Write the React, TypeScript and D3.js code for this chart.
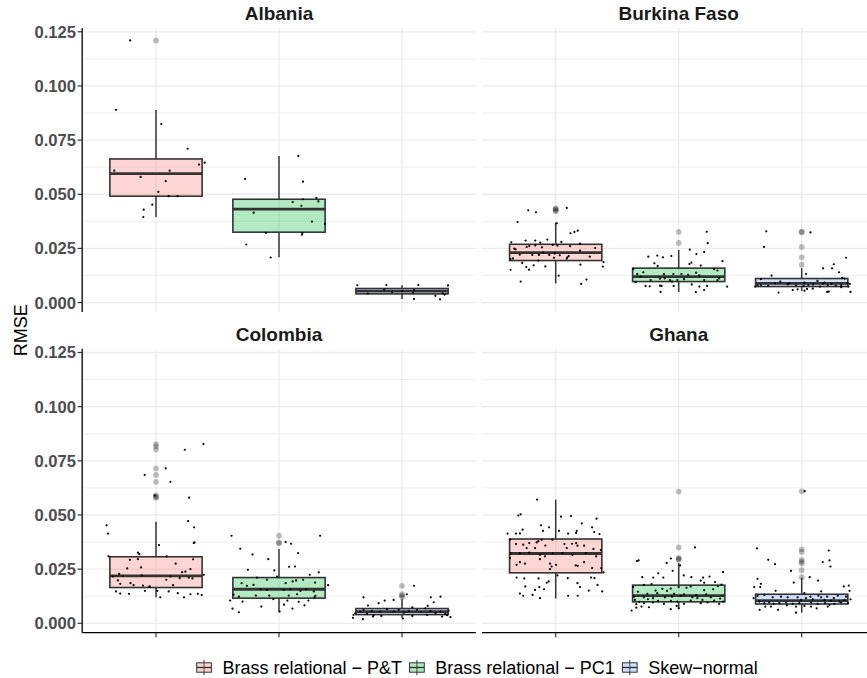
import React from 'react';
import * as d3 from 'd3';

const W = 867;
const H = 678;
const FONT = '"Liberation Sans", Arial, Helvetica, sans-serif';

const countries = ['Albania', 'Burkina Faso', 'Colombia', 'Ghana'];
const methods = ['Brass relational − P&T', 'Brass relational − PC1', 'Skew−normal'];
const methodColors = ['#F8766D', '#00BA38', '#619CFF'];
const yTicks = [0, 0.025, 0.05, 0.075, 0.1, 0.125];
const yMinorTicks = [0.0125, 0.0375, 0.0625, 0.0875, 0.1125];
const yDomain = [-0.00435, 0.12675];

// Box summaries per method: [lower whisker, Q1, median, Q3, upper whisker]
const albaniaBoxes = [
  [0.0395, 0.0491, 0.0595, 0.0663, 0.0889],
  [0.0209, 0.0325, 0.0431, 0.0477, 0.0677],
  [0.0017, 0.004, 0.0053, 0.0065, 0.008],
];
const burkinaBoxes = [
  [0.0088, 0.0194, 0.0231, 0.0269, 0.0369],
  [0.0049, 0.0097, 0.012, 0.0159, 0.0243],
  [0.0054, 0.0074, 0.0089, 0.0111, 0.0159],
];
const colombiaBoxes = [
  [0.012, 0.0165, 0.0219, 0.0307, 0.0469],
  [0.0054, 0.0116, 0.0157, 0.0211, 0.0343],
  [0.0025, 0.004, 0.0054, 0.0068, 0.0111],
];
const ghanaBoxes = [
  [0.0114, 0.0233, 0.0322, 0.0389, 0.0571],
  [0.0066, 0.0099, 0.0128, 0.0176, 0.0278],
  [0.0049, 0.0089, 0.0105, 0.0134, 0.0211],
];

// Outliers beyond the whiskers, per method
const albaniaOutliers = [[0.121], [], []];
const burkinaOutliers = [[0.0435, 0.0431, 0.0427, 0.0422], [0.0326, 0.0275], [0.0327, 0.0325, 0.0257, 0.0209, 0.0175]];
const colombiaOutliers = [[0.0827, 0.0817, 0.0802, 0.0715, 0.0685, 0.0653, 0.059, 0.0583, 0.058], [0.0404, 0.0373, 0.0369], [0.0173, 0.0134, 0.0127, 0.0121]];
const ghanaOutliers = [[], [0.0608, 0.035, 0.0302, 0.0297, 0.0294], [0.0609, 0.0341, 0.0329, 0.0293, 0.0285, 0.0276, 0.0245, 0.0213]];

// Individual runs: [horizontal jitter (category units), RMSE]
const albaniaPT = [[-0.21, 0.121], [-0.325, 0.089], [0.043, 0.0824], [0.257, 0.071], [0.396, 0.0646], [0.35, 0.0637], [-0.339, 0.0609], [0.111, 0.0609], [-0.125, 0.058], [0.079, 0.0561], [0.019, 0.0511], [0.103, 0.0491], [0.176, 0.0491], [-0.03, 0.0452], [-0.1, 0.0429], [-0.103, 0.0395]];
const albaniaPC1 = [[0.157, 0.0677], [-0.276, 0.0571], [0.195, 0.0558], [0.304, 0.0483], [0.195, 0.0477], [0.111, 0.0464], [0.32, 0.0467], [0.182, 0.0447], [-0.206, 0.0415], [0.268, 0.0374], [0.374, 0.0363], [-0.106, 0.0322], [0.19, 0.0321], [0.187, 0.0313], [-0.266, 0.0268], [-0.068, 0.0208]];
const albaniaSN = [[-0.363, 0.008], [-0.127, 0.0081], [0.133, 0.0081], [0.374, 0.0079], [-0.279, 0.0042], [-0.144, 0.006], [-0.081, 0.0049], [0.0, 0.0053], [0.098, 0.0058], [0.089, 0.0046], [0.271, 0.0031], [0.33, 0.0043], [0.347, 0.0037], [0.098, 0.0016], [0.309, 0.0015]];

const burkinaPT = [[-0.223, 0.0426], [-0.16, 0.0417], [0.09, 0.0437], [-0.31, 0.0372], [0.008, 0.0366], [0.12, 0.032], [0.152, 0.0326], [0.179, 0.0332], [-0.361, 0.0278], [-0.245, 0.0286], [-0.166, 0.0286], [-0.125, 0.0277], [-0.068, 0.0291], [0.046, 0.028], [-0.215, 0.0261], [-0.166, 0.0264], [-0.111, 0.0255], [-0.024, 0.0266], [0.014, 0.0263], [0.117, 0.0261], [0.198, 0.0272], [0.321, 0.0252], [-0.337, 0.0249], [-0.326, 0.0246], [-0.236, 0.0257], [-0.101, 0.0231], [-0.008, 0.0227], [0.198, 0.024], [-0.293, 0.0221], [-0.348, 0.0204], [-0.19, 0.022], [-0.136, 0.022], [-0.052, 0.022], [-0.014, 0.0207], [0.033, 0.0218], [0.095, 0.0209], [0.106, 0.0215], [0.277, 0.0212], [-0.367, 0.0201], [-0.141, 0.0194], [-0.272, 0.0183], [0.201, 0.0175], [-0.239, 0.0164], [-0.179, 0.0172], [-0.084, 0.0167], [0.389, 0.0187], [0.383, 0.0166], [-0.367, 0.0151], [-0.217, 0.0152], [0.024, 0.0124], [-0.285, 0.0097], [0.25, 0.0106], [0.207, 0.0086], [0.09, 0.0203]];
const burkinaPC1 = [[0.228, 0.0327], [0.236, 0.0274], [0.09, 0.0244], [0.207, 0.0234], [0.144, 0.0224], [-0.247, 0.0212], [-0.174, 0.0217], [-0.128, 0.0209], [-0.06, 0.0215], [0.356, 0.0191], [-0.198, 0.0181], [-0.171, 0.0169], [0.087, 0.0178], [0.103, 0.0184], [0.179, 0.0171], [-0.288, 0.014], [-0.337, 0.0131], [-0.12, 0.0131], [-0.043, 0.0132], [0.022, 0.0132], [0.076, 0.0128], [0.141, 0.0138], [0.166, 0.0126], [0.288, 0.0154], [0.315, 0.0148], [0.329, 0.0112], [-0.31, 0.012], [-0.228, 0.0104], [-0.152, 0.011], [-0.114, 0.0112], [-0.071, 0.0104], [-0.054, 0.0097], [-0.011, 0.0104], [0.043, 0.0108], [0.207, 0.0104], [0.315, 0.0104], [-0.351, 0.0094], [-0.269, 0.0077], [-0.236, 0.0075], [-0.152, 0.0078], [-0.139, 0.0077], [-0.041, 0.0077], [0.106, 0.0084], [0.168, 0.0074], [0.231, 0.0077], [0.394, 0.0074], [-0.147, 0.0049], [0.139, 0.0048], [0.207, 0.0058], [-0.37, 0.0154]];
const burkinaSN = [[-0.288, 0.0329], [0.071, 0.0324], [-0.307, 0.0257], [0.361, 0.0207], [0.261, 0.0177], [0.174, 0.0158], [0.247, 0.0158], [0.304, 0.014], [0.035, 0.0132], [-0.245, 0.0124], [0.128, 0.01], [0.329, 0.0114], [0.171, 0.0086], [0.242, 0.0086], [0.348, 0.0111], [-0.332, 0.0108], [-0.174, 0.0097], [-0.359, 0.008], [-0.332, 0.008], [-0.272, 0.0077], [-0.217, 0.0089], [-0.114, 0.0084], [-0.101, 0.0089], [-0.046, 0.008], [0.022, 0.0092], [0.054, 0.0081], [0.092, 0.0083], [0.149, 0.0074], [0.185, 0.0092], [0.212, 0.0081], [0.277, 0.0078], [0.321, 0.0081], [0.375, 0.0089], [0.391, 0.0086], [0.38, 0.0074], [0.321, 0.0071], [0.043, 0.0063], [0.09, 0.0064], [-0.073, 0.0058], [-0.033, 0.0061], [0.022, 0.0055], [-0.188, 0.0046], [0.207, 0.0049], [0.22, 0.0051], [0.397, 0.0049], [-0.378, 0.0074], [0.016, 0.0077]];

const colombiaPT = [[0.386, 0.0827], [0.234, 0.0801], [0.079, 0.0715], [-0.092, 0.0685], [0.117, 0.0653], [0.269, 0.058], [-0.011, 0.059], [-0.402, 0.0452], [-0.391, 0.0414], [0.261, 0.0472], [0.31, 0.0443], [0.313, 0.0373], [0.307, 0.037], [0.024, 0.0361], [-0.147, 0.0326], [-0.136, 0.0319], [-0.212, 0.0293], [-0.147, 0.0296], [-0.234, 0.0253], [-0.122, 0.0258], [0.087, 0.0309], [0.16, 0.0275], [0.302, 0.0295], [0.212, 0.0236], [0.239, 0.0238], [0.28, 0.025], [-0.386, 0.0309], [-0.351, 0.0216], [-0.269, 0.0219], [-0.31, 0.0198], [-0.291, 0.0182], [-0.207, 0.0185], [-0.182, 0.0176], [-0.106, 0.0174], [-0.052, 0.0171], [0.084, 0.0201], [0.117, 0.0216], [0.193, 0.0208], [0.266, 0.0211], [0.296, 0.0207], [0.389, 0.0224], [-0.326, 0.0147], [-0.291, 0.0137], [-0.22, 0.0136], [-0.09, 0.015], [-0.054, 0.0168], [0.011, 0.015], [0.035, 0.012], [0.103, 0.0147], [0.139, 0.0176], [0.177, 0.0139], [0.228, 0.012], [0.28, 0.0134], [0.34, 0.0136], [0.372, 0.013], [-0.299, 0.0228], [-0.117, 0.0221]];
const colombiaPC1 = [[-0.386, 0.0404], [0.334, 0.0404], [0.054, 0.0375], [0.098, 0.0367], [-0.315, 0.0344], [0.155, 0.0324], [-0.215, 0.0318], [-0.087, 0.0296], [0.082, 0.0261], [0.13, 0.0262], [-0.253, 0.0247], [-0.038, 0.0244], [-0.179, 0.0211], [-0.098, 0.0201], [-0.016, 0.0216], [0.054, 0.0185], [0.111, 0.0193], [0.139, 0.0198], [0.196, 0.0201], [0.25, 0.0224], [0.293, 0.0188], [0.323, 0.0235], [0.399, 0.0176], [-0.304, 0.0185], [-0.261, 0.0173], [-0.207, 0.0177], [-0.152, 0.0157], [-0.098, 0.0154], [0.038, 0.0154], [0.092, 0.0157], [0.174, 0.015], [0.22, 0.0157], [0.283, 0.0147], [0.296, 0.0127], [-0.37, 0.0132], [-0.326, 0.0123], [-0.188, 0.0128], [-0.079, 0.0128], [0.079, 0.0128], [0.147, 0.0134], [0.288, 0.012], [-0.397, 0.0105], [-0.296, 0.01], [-0.046, 0.0111], [0.068, 0.0105], [0.16, 0.0099], [0.207, 0.0083], [0.239, 0.0105], [-0.144, 0.0077], [0.041, 0.0086], [0.109, 0.0068], [-0.378, 0.0068], [-0.326, 0.0051], [0.005, 0.0054]];
const colombiaSN = [[0.098, 0.0173], [-0.313, 0.012], [0.038, 0.0134], [0.234, 0.012], [0.313, 0.0123], [-0.19, 0.0093], [-0.277, 0.0082], [-0.141, 0.0105], [-0.068, 0.0108], [0.084, 0.0073], [0.209, 0.008], [0.258, 0.0097], [-0.394, 0.0039], [-0.38, 0.0046], [-0.34, 0.0054], [-0.313, 0.0062], [-0.285, 0.0043], [-0.245, 0.0057], [-0.231, 0.0037], [-0.177, 0.0054], [-0.122, 0.0065], [-0.068, 0.0054], [-0.027, 0.0062], [0.014, 0.0049], [0.054, 0.0057], [0.122, 0.0062], [0.155, 0.0052], [0.19, 0.0069], [0.231, 0.0057], [0.272, 0.0046], [0.313, 0.0054], [0.353, 0.0043], [0.38, 0.0059], [0.394, 0.0028], [-0.399, 0.0025], [-0.318, 0.0019], [-0.236, 0.0031], [-0.168, 0.0034], [0.008, 0.0022], [0.084, 0.0034], [0.204, 0.0039], [0.326, 0.0031], [0.367, 0.0037]];

const ghanaPT = [[-0.152, 0.0571], [-0.304, 0.0497], [-0.285, 0.0503], [0.043, 0.0492], [0.125, 0.0495], [0.332, 0.0483], [-0.12, 0.0452], [-0.054, 0.0443], [0.212, 0.0461], [-0.269, 0.0432], [-0.103, 0.0427], [0.027, 0.0427], [0.101, 0.0414], [0.171, 0.0427], [0.166, 0.0417], [0.296, 0.0443], [0.313, 0.0421], [-0.391, 0.0414], [-0.323, 0.0414], [-0.291, 0.0415], [0.356, 0.0412], [-0.372, 0.0386], [-0.323, 0.0366], [-0.264, 0.0363], [-0.215, 0.037], [-0.155, 0.0373], [-0.114, 0.0386], [-0.141, 0.0379], [-0.027, 0.0386], [0.071, 0.0366], [0.133, 0.0367], [0.166, 0.037], [0.177, 0.0358], [-0.236, 0.0347], [-0.168, 0.0347], [-0.084, 0.0359], [0.09, 0.0347], [0.231, 0.0358], [0.307, 0.0343], [0.367, 0.0338], [-0.367, 0.0323], [-0.291, 0.0323], [-0.215, 0.0326], [-0.128, 0.0316], [-0.087, 0.0309], [-0.024, 0.0323], [0.054, 0.0324], [0.136, 0.0316], [0.245, 0.0324], [0.329, 0.0309], [-0.372, 0.0301], [-0.291, 0.0282], [-0.128, 0.0296], [-0.046, 0.0275], [-0.033, 0.0262], [0.003, 0.027], [0.163, 0.0267], [0.179, 0.0265], [0.231, 0.0282], [0.296, 0.0255], [0.37, 0.0255], [-0.318, 0.027], [-0.25, 0.0275], [-0.046, 0.025], [0.389, 0.0235], [-0.318, 0.0211], [-0.255, 0.0207], [-0.139, 0.0207], [0.098, 0.0208], [0.288, 0.0211], [0.315, 0.0208], [-0.247, 0.017], [-0.133, 0.0167], [-0.073, 0.0187], [0.177, 0.0185], [0.198, 0.0167], [0.34, 0.0177], [-0.168, 0.0154], [-0.095, 0.0157], [0.269, 0.0151], [0.378, 0.0147], [-0.291, 0.0137], [-0.264, 0.0127], [-0.188, 0.0131], [-0.128, 0.0116], [0.101, 0.0127], [0.179, 0.0127], [-0.057, 0.0193], [0.014, 0.0221]];
const ghanaPC1 = [[0.133, 0.035], [-0.34, 0.0287], [-0.326, 0.029], [-0.063, 0.0299], [-0.098, 0.0278], [0.011, 0.0267], [-0.049, 0.0242], [0.041, 0.0221], [-0.125, 0.0211], [-0.296, 0.0213], [-0.207, 0.0211], [-0.166, 0.0231], [0.103, 0.0213], [0.198, 0.0211], [0.25, 0.0216], [0.361, 0.0236], [0.296, 0.019], [0.179, 0.0197], [0.207, 0.0187], [0.098, 0.017], [0.063, 0.0164], [0.0, 0.0167], [-0.065, 0.016], [-0.133, 0.0159], [-0.22, 0.0181], [-0.283, 0.0177], [-0.37, 0.0167], [-0.188, 0.0151], [-0.095, 0.015], [0.207, 0.0153], [0.28, 0.0157], [0.318, 0.0171], [0.348, 0.0179], [-0.332, 0.0145], [-0.255, 0.0136], [-0.174, 0.0139], [-0.038, 0.0136], [0.043, 0.0133], [0.141, 0.013], [0.223, 0.0133], [0.356, 0.0127], [-0.364, 0.0123], [-0.283, 0.012], [-0.209, 0.0116], [-0.111, 0.012], [-0.054, 0.0123], [0.016, 0.0127], [0.111, 0.012], [0.152, 0.0116], [0.261, 0.012], [0.337, 0.0114], [-0.356, 0.0108], [-0.321, 0.0099], [-0.25, 0.0111], [-0.168, 0.0103], [-0.063, 0.0103], [-0.011, 0.01], [0.098, 0.0105], [0.193, 0.0108], [0.288, 0.0105], [0.361, 0.01], [-0.345, 0.0088], [-0.283, 0.0093], [-0.209, 0.0096], [-0.12, 0.009], [-0.016, 0.008], [0.043, 0.009], [0.179, 0.0093], [0.234, 0.0096], [0.329, 0.009], [-0.383, 0.0059], [-0.302, 0.0077], [-0.242, 0.0074], [-0.065, 0.0065], [0.0, 0.0069], [-0.345, 0.0072]];
const ghanaSN = [[0.024, 0.061], [-0.364, 0.0346], [0.22, 0.0336], [-0.272, 0.0293], [-0.217, 0.0273], [0.171, 0.0282], [0.226, 0.029], [0.234, 0.0262], [-0.087, 0.0242], [0.065, 0.0213], [0.133, 0.0197], [-0.359, 0.0205], [-0.065, 0.0188], [-0.332, 0.0182], [-0.386, 0.0167], [-0.337, 0.0167], [-0.212, 0.015], [0.158, 0.0147], [0.383, 0.0174], [0.342, 0.017], [0.389, 0.015], [0.022, 0.0139], [0.071, 0.0123], [0.136, 0.0127], [0.158, 0.012], [0.207, 0.0123], [0.261, 0.0116], [0.293, 0.0127], [0.361, 0.0123], [-0.359, 0.0127], [-0.304, 0.0131], [-0.236, 0.012], [-0.168, 0.0123], [-0.114, 0.012], [-0.033, 0.012], [-0.005, 0.0108], [0.035, 0.0116], [0.09, 0.0111], [0.185, 0.0108], [0.239, 0.0105], [0.307, 0.01], [0.348, 0.0108], [0.397, 0.0111], [-0.391, 0.0116], [-0.345, 0.01], [-0.304, 0.0093], [-0.264, 0.0096], [-0.228, 0.009], [-0.182, 0.0093], [-0.128, 0.0096], [-0.073, 0.009], [-0.019, 0.0093], [0.076, 0.0096], [0.13, 0.009], [0.19, 0.0093], [0.266, 0.009], [0.321, 0.0096], [0.375, 0.0093], [-0.342, 0.0062], [-0.296, 0.0077], [-0.25, 0.0077], [-0.193, 0.0062], [-0.12, 0.0083], [-0.046, 0.0077], [0.022, 0.008], [0.076, 0.0077], [0.122, 0.0069], [0.212, 0.0077], [0.226, 0.0085], [-0.046, 0.0049]];

// Facet layout
const panelXs = [82.2, 481.9];
const panelYs = [28, 348.7];
const panelW = 393.6;
const panelH = 284;
const boxHalf = 0.375;

const panels = [
  { name: countries[0], col: 0, row: 0, boxes: albaniaBoxes, outliers: albaniaOutliers, points: [albaniaPT, albaniaPC1, albaniaSN] },
  { name: countries[1], col: 1, row: 0, boxes: burkinaBoxes, outliers: burkinaOutliers, points: [burkinaPT, burkinaPC1, burkinaSN] },
  { name: countries[2], col: 0, row: 1, boxes: colombiaBoxes, outliers: colombiaOutliers, points: [colombiaPT, colombiaPC1, colombiaSN] },
  { name: countries[3], col: 1, row: 1, boxes: ghanaBoxes, outliers: ghanaOutliers, points: [ghanaPT, ghanaPC1, ghanaSN] },
];

function measure(text: string, font: string): number {
  const c = document.createElement('canvas').getContext('2d');
  if (!c) return text.length * 9;
  c.font = font;
  return c.measureText(text).width;
}

function Panel({ p }: { p: any }) {
  const x0 = panelXs[p.col];
  const y0 = panelYs[p.row];
  const x = d3.scaleLinear().domain([0.4, 3.6]).range([x0, x0 + panelW]);
  const y = d3.scaleLinear().domain(yDomain).range([y0 + panelH, y0]);
  const isLeft = p.col === 0;
  const isBottom = p.row === 1;
  const cats = [1, 2, 3];
  return (
    <g>
      {/* grid */}
      {yMinorTicks.map((t) => (
        <line key={'mn' + t} x1={x0} x2={x0 + panelW} y1={y(t)} y2={y(t)} stroke="#EBEBEB" strokeWidth={0.8} />
      ))}
      {yTicks.map((t) => (
        <line key={'mj' + t} x1={x0} x2={x0 + panelW} y1={y(t)} y2={y(t)} stroke="#EBEBEB" strokeWidth={1.3} />
      ))}
      {cats.map((c) => (
        <line key={'vx' + c} x1={x(c)} x2={x(c)} y1={y0} y2={y0 + panelH} stroke="#EBEBEB" strokeWidth={1.3} />
      ))}
      {/* boxplots */}
      {p.boxes.map((b: number[], i: number) => {
        const cx = x(i + 1);
        const xl = x(i + 1 - boxHalf);
        const xr = x(i + 1 + boxHalf);
        return (
          <g key={'b' + i}>
            {p.outliers[i].map((v: number, k: number) => (
              <circle key={k} cx={cx} cy={y(v)} r={2.9} fill="#000" fillOpacity={0.25} />
            ))}
            <line x1={cx} x2={cx} y1={y(b[3])} y2={y(b[4])} stroke="#333" strokeWidth={1.5} />
            <line x1={cx} x2={cx} y1={y(b[1])} y2={y(b[0])} stroke="#333" strokeWidth={1.5} />
            <rect x={xl} y={y(b[3])} width={xr - xl} height={y(b[1]) - y(b[3])} fill={methodColors[i]} fillOpacity={0.3} stroke="#333" strokeWidth={1.6} />
            <line x1={xl} x2={xr} y1={y(b[2])} y2={y(b[2])} stroke="#333" strokeWidth={2.8} />
          </g>
        );
      })}
      {/* jittered runs */}
      {p.points.map((pts: number[][], i: number) =>
        pts.map((d, k) => <circle key={'p' + i + '-' + k} cx={x(i + 1 + d[0])} cy={y(d[1])} r={1.1} fill="#000" />)
      )}
      {/* axes */}
      {isLeft && (
        <g>
          <line x1={x0} x2={x0} y1={y0} y2={y0 + panelH} stroke="#000" strokeWidth={1.3} />
          {yTicks.map((t) => (
            <g key={'yt' + t}>
              <line x1={x0 - 4.6} x2={x0} y1={y(t)} y2={y(t)} stroke="#333" strokeWidth={1.2} />
              <text x={x0 - 6.2} y={y(t)} dy="0.36em" textAnchor="end" fontFamily={FONT} fontWeight="bold" fontSize={16.6} fill="#4D4D4D">
                {d3.format('.3f')(t)}
              </text>
            </g>
          ))}
        </g>
      )}
      {isBottom && (
        <g>
          <line x1={x0} x2={x0 + panelW} y1={y0 + panelH} y2={y0 + panelH} stroke="#000" strokeWidth={1.3} />
          {cats.map((c) => (
            <line key={'xt' + c} x1={x(c)} x2={x(c)} y1={y0 + panelH} y2={y0 + panelH + 4.6} stroke="#333" strokeWidth={1.2} />
          ))}
        </g>
      )}
      {/* strip title */}
      <text x={x0 + panelW / 2} y={y0 - 7.6} textAnchor="middle" fontFamily={FONT} fontWeight="bold" fontSize={19} fill="#1A1A1A">
        {p.name}
      </text>
    </g>
  );
}

function Legend() {
  const font = `18px ${FONT}`;
  const keyW = 14.7;
  const keyGap = 11;
  const itemGap = 7.6;
  const widths = methods.map((m) => measure(m, font));
  const total = methods.length * (keyW + keyGap) + d3.sum(widths) + (methods.length - 1) * itemGap;
  const centre = 477.2;
  let cursor = centre - total / 2;
  const yMid = 667.5;
  const items = methods.map((m, i) => {
    const kx = cursor;
    cursor += keyW + keyGap + widths[i] + itemGap;
    return { m, i, kx };
  });
  return (
    <g>
      {items.map(({ m, i, kx }) => (
        <g key={m}>
          <line x1={kx + keyW / 2} x2={kx + keyW / 2} y1={yMid - 7.6} y2={yMid + 7.6} stroke="#333" strokeWidth={1} />
          <rect x={kx} y={yMid - 4.7} width={keyW} height={9.4} fill={methodColors[i]} fillOpacity={0.3} stroke="#333" strokeWidth={1} />
          <line x1={kx} x2={kx + keyW} y1={yMid} y2={yMid} stroke="#333" strokeWidth={1.4} />
          <text x={kx + keyW + keyGap} y={yMid} dy="0.36em" fontFamily={FONT} fontSize={18} fill="#000">
            {m}
          </text>
        </g>
      ))}
    </g>
  );
}

export default function App() {
  const midY = (panelYs[0] + panelYs[1] + panelH) / 2;
  return (
    <svg width={W} height={H} viewBox={`0 0 ${W} ${H}`} style={{ position: 'absolute', left: 0, top: 0, display: 'block', background: '#fff' }}>
      <rect width={W} height={H} fill="#fff" />
      {panels.map((p) => (
        <Panel key={p.name} p={p} />
      ))}
      <text transform={`translate(26.6, ${midY}) rotate(-90)`} textAnchor="middle" fontFamily={FONT} fontSize={18} fill="#000">
        RMSE
      </text>
      <Legend />
    </svg>
  );
}
